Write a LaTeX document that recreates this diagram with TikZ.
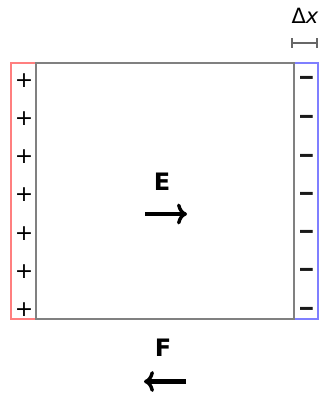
\documentclass[tikz,border=0pt]{standalone}
\usepackage{fontspec}
\setmainfont{DejaVu Sans}
\usetikzlibrary{arrows.meta}
\definecolor{plusred}{HTML}{FF7F7F}
\definecolor{minusblue}{HTML}{7F7FFF}
\definecolor{plategray}{HTML}{808080}
\tikzset{
  plussign/.style={inner sep=0pt, font=\fontsize{22}{22}\selectfont, text=black},
  minussign/.style={inner sep=0pt, font=\fontsize{24}{24}\selectfont\bfseries, text=black!90},
  biglabel/.style={inner sep=0pt, font=\fontsize{24}{24}\selectfont\bfseries},
  fieldarrow/.style={line width=4.2pt, -{To[length=10pt,width=21pt,line width=3.4pt]}}
}
\begin{document}
\begin{tikzpicture}[x=1pt,y=-1pt]
\useasboundingbox (0,0) rectangle (323,399);
% plates
\coordinate (tl) at (36,63);
\coordinate (br) at (294,319);
\draw[plusred, line width=1.6pt] (36,63) -- (11,63) -- (11,319) -- (36,319);
\draw[minusblue, line width=1.6pt] (294,63) -- (318,63) -- (318,319) -- (294,319);
\draw[plategray, line width=1.6pt] (tl) rectangle (br);
% charges
\foreach \i/\y in {1/81,2/119,3/157,4/195,5/234,6/272,7/310}{
  \node[plussign] (p\i) at (24,\y) {+};
}
\foreach \i/\y in {1/80.5,2/119.5,3/158.5,4/196.5,5/234.5,6/272.5,7/311.5}{
  \node[minussign] (m\i) at (306.5,\y) {\scalebox{1.35}[1]{–}};
}
% delta x
\node[inner sep=0pt, font=\fontsize{21}{21}\selectfont] (dx) at (305,16) {Δ\textit{x}};
\coordinate (dxa) at (292,42.5);
\coordinate (dxb) at (317,42.5);
\draw[plategray!80!black, line width=2pt] (dxa) -- (dxb);
\draw[plategray!80!black, line width=2pt] ([yshift=-5]dxa) -- ([yshift=5]dxa);
\draw[plategray!80!black, line width=2pt] ([yshift=-5]dxb) -- ([yshift=5]dxb);
% field
\node[biglabel] (E) at (162,182) {E};
\coordinate (ea) at (145,214);
\coordinate (eb) at (187,214);
\draw[fieldarrow] (ea) -- (eb);
% force
\node[biglabel] (F) at (163,348) {F};
\coordinate (fa) at (186,381.5);
\coordinate (fb) at (144,381.5);
\draw[fieldarrow] (fa) -- (fb);
\end{tikzpicture}
\end{document}
